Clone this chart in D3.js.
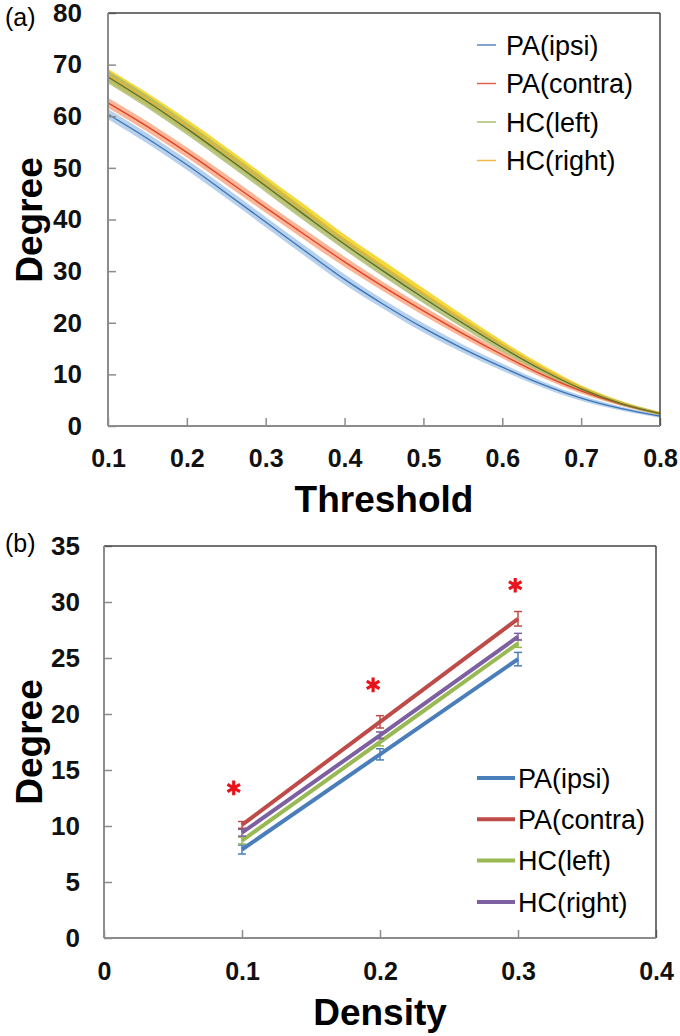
<!DOCTYPE html>
<html>
<head>
<meta charset="utf-8">
<script src="https://cdn.jsdelivr.net/npm/d3@7"></script>
<style>
  body { margin: 0; background: #fff; }
  svg { display: block; font-family: "Liberation Sans", Arial, sans-serif; }
  .tick text { font-weight: bold; fill: #111; }
  .tick line { stroke: #8c8c8c; stroke-width: 1.5; }
</style>
</head>
<body>
<div id="chart"></div>
<script>
// ---- panel (a): degree vs threshold (mean line + shaded band) ----
var thresholds = [0.10, 0.15, 0.20, 0.25, 0.30, 0.35, 0.40, 0.45, 0.50, 0.55, 0.60, 0.65, 0.70, 0.75, 0.80];
var ipsiDeg   = [60.4, 55.7, 50.6, 45.1, 39.5, 33.9, 28.4, 23.5, 19.0, 15.0, 11.4, 8.1, 5.4, 3.4, 1.9];
var contraDeg = [62.6, 58.0, 53.0, 47.7, 42.3, 37.0, 31.8, 26.9, 22.3, 17.9, 13.8, 10.0, 6.8, 4.3, 2.4];
var leftDeg   = [67.6, 62.8, 57.6, 52.1, 46.5, 40.8, 35.2, 29.9, 24.8, 19.9, 15.2, 10.9, 7.2, 4.4, 2.4];
var rightDeg  = [68.0, 63.3, 58.2, 52.8, 47.2, 41.6, 36.0, 30.8, 25.7, 20.6, 15.7, 11.3, 7.4, 4.5, 2.4];
var ipsiBand   = [1.0, 1.0, 1.0, 1.0, 1.0, 1.0, 1.0, 0.9, 0.9, 0.8, 0.7, 0.6, 0.5, 0.4, 0.3];
var contraBand = [1.0, 1.0, 1.0, 1.0, 1.0, 1.0, 1.0, 0.9, 0.9, 0.8, 0.7, 0.6, 0.5, 0.4, 0.3];
var leftBand   = [1.2, 1.2, 1.2, 1.2, 1.2, 1.2, 1.1, 1.1, 1.0, 0.9, 0.8, 0.6, 0.5, 0.4, 0.3];
var rightBand  = [1.2, 1.2, 1.2, 1.2, 1.2, 1.2, 1.1, 1.1, 1.0, 0.9, 0.8, 0.6, 0.5, 0.4, 0.3];
var aTicksX = [0.1, 0.2, 0.3, 0.4, 0.5, 0.6, 0.7, 0.8];
var aTicksY = [0, 10, 20, 30, 40, 50, 60, 70, 80];

// ---- panel (b): degree vs density (mean +- error) ----
var densities = [0.1, 0.2, 0.3];
var ipsiB   = [7.9, 16.4, 24.9];
var contraB = [10.1, 19.3, 28.5];
var leftB   = [8.7, 17.5, 26.3];
var rightB  = [9.4, 18.1, 26.9];
var ipsiErr   = [0.4, 0.5, 0.6];
var contraErr = [0.3, 0.55, 0.65];
var leftErr   = [0.3, 0.35, 0.35];
var rightErr  = [0.3, 0.3, 0.3];
var starX = [0.094, 0.195, 0.298];
var starY = [13.4, 22.6, 31.5];
var bTicksX = [0, 0.1, 0.2, 0.3, 0.4];
var bTicksY = [0, 5, 10, 15, 20, 25, 30, 35];

var names = ["PA(ipsi)", "PA(contra)", "HC(left)", "HC(right)"];

var W = 680, H = 1036;
var svg = d3.select("#chart").append("svg").attr("width", W).attr("height", H);

function fmt(d) { return d === 0 ? "0" : String(d); }

function frame(g, x0, x1, y0, y1) {
    g.append("line").attr("x1", x0).attr("x2", x1).attr("y1", y0).attr("y2", y0)
        .attr("stroke", "#444").attr("stroke-width", 1.5);
    g.append("line").attr("x1", x1).attr("x2", x1).attr("y1", y0).attr("y2", y1)
        .attr("stroke", "#444").attr("stroke-width", 1.5);
    g.append("line").attr("x1", x0).attr("x2", x0).attr("y1", y0).attr("y2", y1)
        .attr("stroke", "#8c8c8c").attr("stroke-width", 2);
    g.append("line").attr("x1", x0).attr("x2", x1).attr("y1", y1).attr("y2", y1)
        .attr("stroke", "#8c8c8c").attr("stroke-width", 2);
}

// ================= panel (a) =================
var xa = d3.scaleLinear().domain([0.1, 0.8]).range([108, 660]);
var ya = d3.scaleLinear().domain([0, 80]).range([426, 13]);
var ga = svg.append("g");

var seriesA = [
    {name: names[0], y: ipsiDeg,   band: ipsiBand,   line: "#3a74b8", fill: "#9fc2e6", op: 0.75},
    {name: names[1], y: contraDeg, band: contraBand, line: "#e2402a", fill: "#f7a57e", op: 0.8},
    {name: names[3], y: rightDeg,  band: rightBand,  line: "#f0b030", fill: "#f0d21a", op: 0.85},
    {name: names[2], y: leftDeg,   band: leftBand,   line: "#5d6e2c", fill: "#aab866", op: 0.8}
];

var area = d3.area().curve(d3.curveMonotoneX)
    .x(function(d) { return xa(d.t); })
    .y0(function(d) { return ya(d.v - d.e); })
    .y1(function(d) { return ya(d.v + d.e); });
var lineA = d3.line().curve(d3.curveMonotoneX)
    .x(function(d) { return xa(d.t); })
    .y(function(d) { return ya(d.v); });

seriesA.forEach(function(s) {
    var pts = thresholds.map(function(t, i) { return {t: t, v: s.y[i], e: s.band[i]}; });
    ga.append("path").datum(pts).attr("d", area)
        .attr("fill", s.fill).attr("fill-opacity", s.op);
});
seriesA.forEach(function(s) {
    var pts = thresholds.map(function(t, i) { return {t: t, v: s.y[i], e: s.band[i]}; });
    ga.append("path").datum(pts).attr("d", lineA)
        .attr("fill", "none").attr("stroke", s.line).attr("stroke-width", 1.3);
});

ga.append("g").attr("transform", "translate(0,426)")
    .call(d3.axisBottom(xa).tickValues(aTicksX).tickSize(-8).tickPadding(23).tickFormat(fmt))
    .call(function(g) { g.select(".domain").remove(); })
    .selectAll("text").style("font-size", "25px");
ga.append("g").attr("transform", "translate(108,0)")
    .call(d3.axisLeft(ya).tickValues(aTicksY).tickSize(-8).tickPadding(26).tickFormat(fmt))
    .call(function(g) { g.select(".domain").remove(); })
    .selectAll("text").style("font-size", "26px");
frame(ga, 108, 660, 13, 426);

ga.append("text").attr("x", 384).attr("y", 512).attr("text-anchor", "middle")
    .style("font-size", "37px").style("font-weight", "bold").text("Threshold");
ga.append("text").attr("transform", "translate(42,220)rotate(-90)").attr("text-anchor", "middle")
    .style("font-size", "37px").style("font-weight", "bold").text("Degree");
ga.append("text").attr("x", 5).attr("y", 26).style("font-size", "25px").text("(a)");

var legA = [
    {name: names[0], c: "#5b86c0"},
    {name: names[1], c: "#e0604a"},
    {name: names[2], c: "#a9c06a"},
    {name: names[3], c: "#f0b848"}
];
legA.forEach(function(l, i) {
    var y = 45 + i * 38.5;
    ga.append("line").attr("x1", 477).attr("x2", 496).attr("y1", y).attr("y2", y)
        .attr("stroke", l.c).attr("stroke-width", 1.5);
    ga.append("text").attr("x", 506).attr("y", y).attr("dy", "0.36em")
        .style("font-size", "27px").text(l.name);
});

// ================= panel (b) =================
var xb = d3.scaleLinear().domain([0, 0.4]).range([104, 656]);
var yb = d3.scaleLinear().domain([0, 35]).range([938, 546]);
var gb = svg.append("g");

var seriesB = [
    {name: names[0], y: ipsiB,   err: ipsiErr,   c: "#4a7ebb"},
    {name: names[1], y: contraB, err: contraErr, c: "#be4b48"},
    {name: names[2], y: leftB,   err: leftErr,   c: "#98b954"},
    {name: names[3], y: rightB,  err: rightErr,  c: "#7d60a0"}
];
var lineB = d3.line().x(function(d) { return xb(d.t); }).y(function(d) { return yb(d.v); });

seriesB.forEach(function(s) {
    var pts = densities.map(function(t, i) { return {t: t, v: s.y[i], e: s.err[i]}; });
    var eb = gb.append("g").attr("stroke", s.c).attr("stroke-width", 1.5);
    pts.forEach(function(p) {
        var x = xb(p.t);
        eb.append("line").attr("x1", x).attr("x2", x).attr("y1", yb(p.v - p.e)).attr("y2", yb(p.v + p.e));
        eb.append("line").attr("x1", x - 4).attr("x2", x + 4).attr("y1", yb(p.v - p.e)).attr("y2", yb(p.v - p.e));
        eb.append("line").attr("x1", x - 4).attr("x2", x + 4).attr("y1", yb(p.v + p.e)).attr("y2", yb(p.v + p.e));
    });
    gb.append("path").datum(pts).attr("d", lineB)
        .attr("fill", "none").attr("stroke", s.c).attr("stroke-width", 4);
});

gb.selectAll(".star").data(starX).enter().append("path")
    .attr("class", "star")
    .attr("transform", function(d, i) { return "translate(" + xb(d) + "," + yb(starY[i]) + ")"; })
    .attr("d", d3.symbol().type(d3.symbolAsterisk).size(150))
    .attr("stroke", "#e8141b").attr("stroke-width", 3.2).attr("fill", "none");

gb.append("g").attr("transform", "translate(0,938)")
    .call(d3.axisBottom(xb).tickValues(bTicksX).tickSize(-8).tickPadding(24).tickFormat(fmt))
    .call(function(g) { g.select(".domain").remove(); })
    .selectAll("text").style("font-size", "25px");
gb.append("g").attr("transform", "translate(104,0)")
    .call(d3.axisLeft(yb).tickValues(bTicksY).tickSize(-8).tickPadding(24).tickFormat(fmt))
    .call(function(g) { g.select(".domain").remove(); })
    .selectAll("text").style("font-size", "26px");
frame(gb, 104, 656, 546, 938);

gb.append("text").attr("x", 380).attr("y", 1025).attr("text-anchor", "middle")
    .style("font-size", "37px").style("font-weight", "bold").text("Density");
gb.append("text").attr("transform", "translate(42,742)rotate(-90)").attr("text-anchor", "middle")
    .style("font-size", "37px").style("font-weight", "bold").text("Degree");
gb.append("text").attr("x", 5).attr("y", 552).style("font-size", "25px").text("(b)");

seriesB.forEach(function(s, i) {
    var y = 778 + i * 41.3;
    gb.append("line").attr("x1", 477).attr("x2", 515).attr("y1", y).attr("y2", y)
        .attr("stroke", s.c).attr("stroke-width", 4);
    gb.append("text").attr("x", 518).attr("y", y).attr("dy", "0.36em")
        .style("font-size", "27px").text(s.name);
});
</script>
</body>
</html>
